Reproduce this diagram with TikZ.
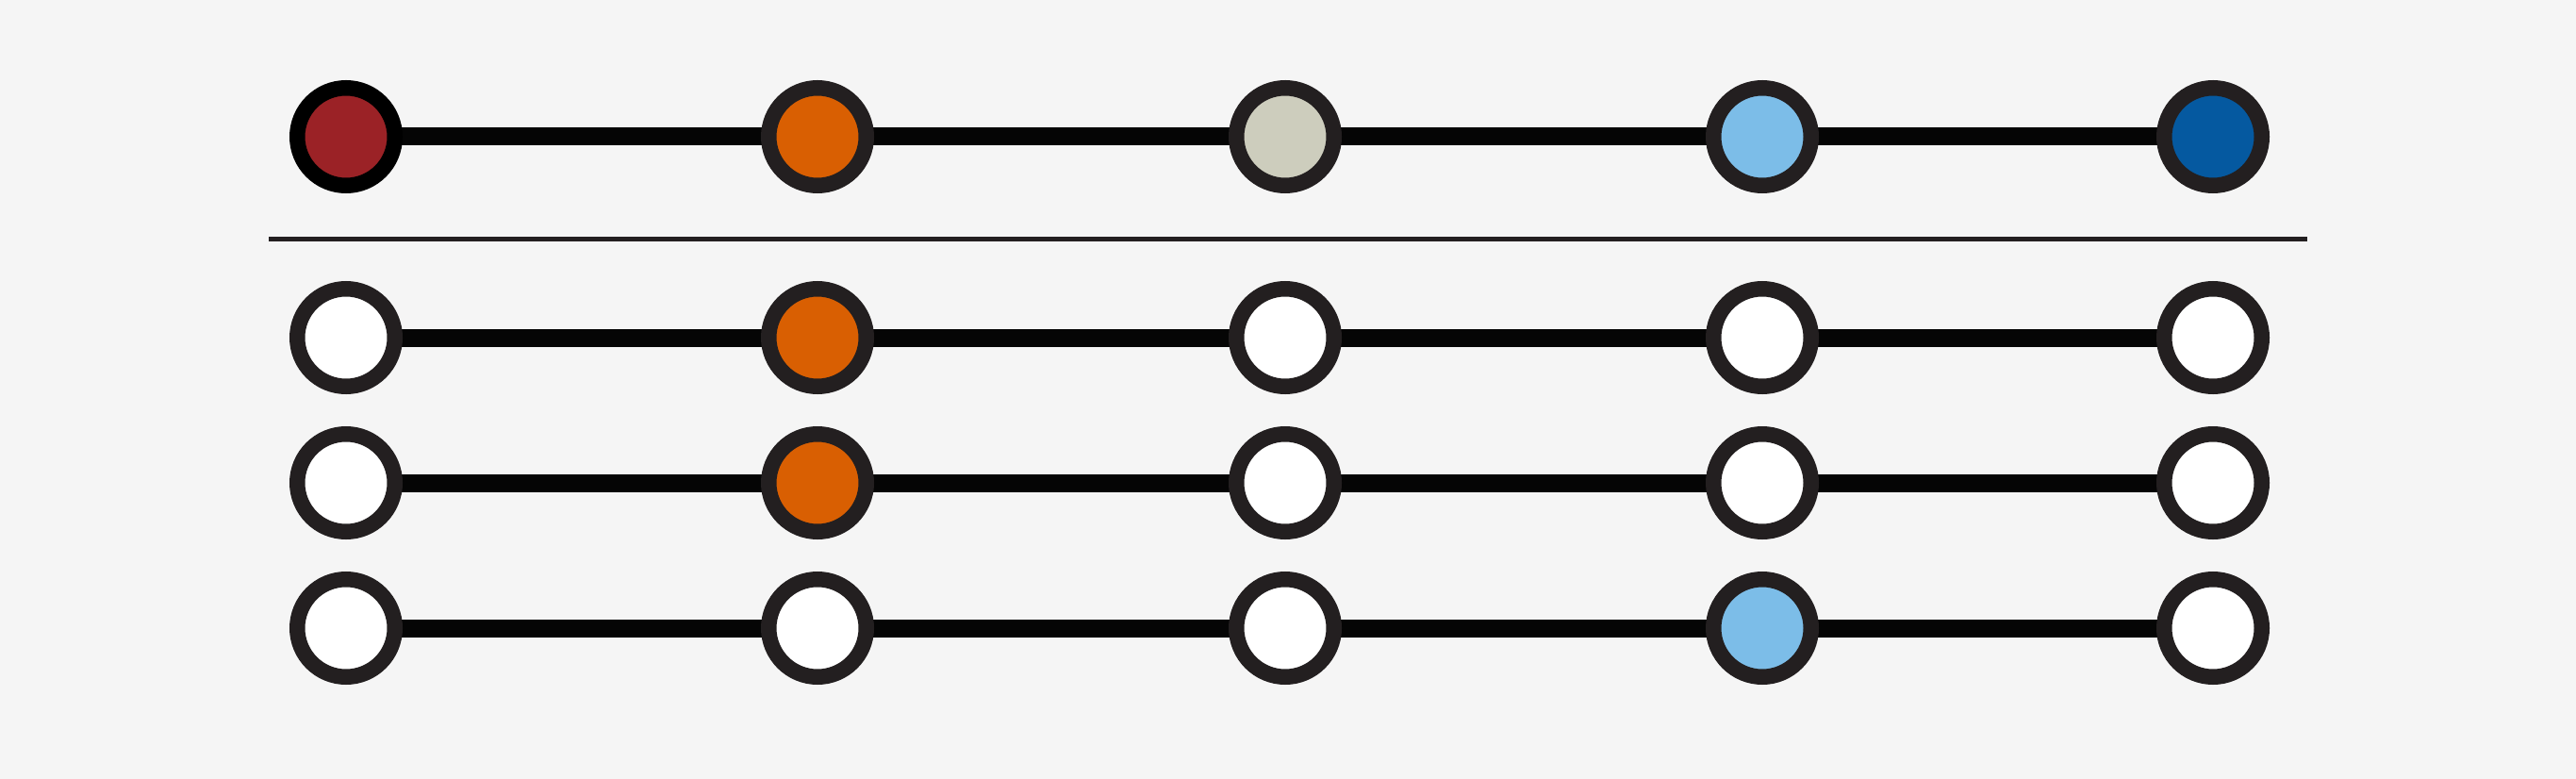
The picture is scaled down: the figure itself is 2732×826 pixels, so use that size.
\documentclass[tikz,border=0pt]{standalone}
\usepackage{tikz}
\definecolor{bg}{HTML}{F5F5F5}
\definecolor{cred}{HTML}{9B2226}
\definecolor{corange}{HTML}{D95F02}
\definecolor{cgray}{HTML}{CDCDBD}
\definecolor{clblue}{HTML}{7CBDE8}
\definecolor{cdblue}{HTML}{0559A0}
\definecolor{ring}{HTML}{231F20}
\definecolor{linec}{HTML}{050505}
\pgfdeclarelayer{back}
\pgfdeclarelayer{mid}
\pgfsetlayers{back,mid,main}
\tikzset{
  dot/.style={circle, draw=ring, line width=16.5pt, minimum size=103.5pt, inner sep=0pt, fill=white},
  link/.style={draw=linec, line width=19pt},
  sep/.style={draw=ring, line width=5pt}
}
\begin{document}
\begin{tikzpicture}[x=1pt,y=-1pt]
\begin{pgfonlayer}{back}
\fill[bg] (0,0) rectangle (2732,826);
\end{pgfonlayer}
\useasboundingbox (0,0) rectangle (2732,826);
% top row
\node[dot, fill=cred, draw=black] (a1) at (367,145) {};
\node[dot, fill=corange] (a2) at (867,145) {};
\node[dot, fill=cgray] (a3) at (1363,145) {};
\node[dot, fill=clblue] (a4) at (1869,145) {};
\node[dot, fill=cdblue] (a5) at (2347,145) {};
% separator
\coordinate (sl) at (285,253.5);
\coordinate (sr) at (2447,253.5);
\draw[sep] (sl) -- (sr);
% row 2
\node[dot] (b1) at (367,358) {};
\node[dot, fill=corange] (b2) at (867,358) {};
\node[dot] (b3) at (1363,358) {};
\node[dot] (b4) at (1869,358) {};
\node[dot] (b5) at (2347,358) {};
% row 3
\node[dot] (c1) at (367,512) {};
\node[dot, fill=corange] (c2) at (867,512) {};
\node[dot] (c3) at (1363,512) {};
\node[dot] (c4) at (1869,512) {};
\node[dot] (c5) at (2347,512) {};
% row 4
\node[dot] (d1) at (367,666) {};
\node[dot] (d2) at (867,666) {};
\node[dot] (d3) at (1363,666) {};
\node[dot, fill=clblue] (d4) at (1869,666) {};
\node[dot] (d5) at (2347,666) {};
% links
\begin{pgfonlayer}{mid}
\foreach \r in {a,b,c,d}{
  \draw[link] (\r1.center) -- (\r2.center);
  \draw[link] (\r2.center) -- (\r3.center);
  \draw[link] (\r3.center) -- (\r4.center);
  \draw[link] (\r4.center) -- (\r5.center);
}
\end{pgfonlayer}
\end{tikzpicture}
\end{document}
